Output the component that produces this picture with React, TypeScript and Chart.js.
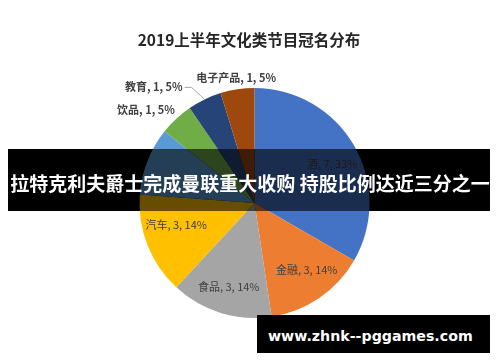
import React, { useEffect, useRef } from "react";
import { Chart, registerables } from "chart.js";

Chart.register(...registerables);

const TITLE = "2019上半年文化类节目冠名分布";
const categories = ["酒", "金融", "食品", "汽车", "日化", "饮品", "教育", "电子产品"];
const values = [7, 3, 3, 3, 2, 1, 1, 1];
const colors = ["#4472C4", "#ED7D31", "#A5A5A5", "#FFC000", "#5B9BD5", "#70AD47", "#264478", "#9E480E"];
const BANNER_TEXT = "拉特克利夫爵士完成曼联重大收购 持股比例达近三分之一";
const URL_TEXT = "www.zhnk--pggames.com";

const CJK = '"Noto Sans CJK SC", "Noto Sans", sans-serif';

const labelPlugin = {
  id: "sliceLabels",
  afterDraw(chart: any) {
    const ctx = chart.ctx;
    const opts = chart.options.plugins.sliceLabels || {};
    // title
    ctx.save();
    ctx.font = `bold 15.5px ${CJK}`;
    ctx.fillStyle = "#262626";
    ctx.textAlign = "center";
    ctx.textBaseline = "middle";
    ctx.fillText(TITLE, chart.width / 2 - 1, 40);
    ctx.restore();

    const meta = chart.getDatasetMeta(0);
    const total = values.reduce((a, b) => a + b, 0);
    meta.data.forEach((arc: any, i: number) => {
      if (opts.hidden && opts.hidden[i]) return;
      const { x, y, startAngle, endAngle, outerRadius } = arc.getProps(
        ["x", "y", "startAngle", "endAngle", "outerRadius"],
        true
      );
      const mid = (startAngle + endAngle) / 2;
      const c = Math.cos(mid);
      const s = Math.sin(mid);
      const text = `${categories[i]}, ${values[i]}, ${Math.round((values[i] / total) * 100)}%`;
      const span = endAngle - startAngle;
      const nudge = (opts.nudge && opts.nudge[i]) || [0, 0];
      ctx.save();
      ctx.fillStyle = "#404040";
      ctx.textBaseline = "middle";
      if (span > 0.7) {
        ctx.font = `11px ${CJK}`;
        ctx.textAlign = "center";
        const r = outerRadius * 0.76;
        ctx.fillText(text, x + c * r + nudge[0], y + s * r + nudge[1]);
      } else {
        ctx.font = `bold 11px ${CJK}`;
        const leader = opts.leader && opts.leader[i];
        if (leader) {
          const ex = x + c * outerRadius;
          const ey = y + s * outerRadius;
          const p1x = ex + leader[0];
          const p1y = ey + leader[1];
          const p2x = p1x - 7;
          ctx.strokeStyle = "#A6A6A6";
          ctx.lineWidth = 1;
          ctx.beginPath();
          ctx.moveTo(ex, ey);
          ctx.lineTo(p1x, p1y);
          ctx.lineTo(p2x, p1y);
          ctx.stroke();
          ctx.textAlign = "right";
          ctx.fillText(text, p2x - 2, p1y - 1);
        } else {
          const r = outerRadius + 8;
          const ax = x + c * r;
          const ay = y + s * r;
          if (c < -0.3) {
            ctx.textAlign = "right";
            ctx.fillText(text, ax + 4, ay - 3);
          } else if (c > 0.3) {
            ctx.textAlign = "left";
            ctx.fillText(text, ax - 4, ay - 3);
          } else {
            ctx.textAlign = "center";
            ctx.fillText(text, ax, ay - 4);
          }
        }
      }
      ctx.restore();
    });
  },
};

function PieChart() {
  const ref = useRef<HTMLCanvasElement | null>(null);
  useEffect(() => {
    if (!ref.current) return;
    const chart = new Chart(ref.current, {
      type: "pie",
      data: {
        labels: categories,
        datasets: [
          {
            data: values,
            backgroundColor: colors,
            borderWidth: 0,
          },
        ],
      },
      options: {
        responsive: false,
        animation: false,
        devicePixelRatio: 1,
        layout: { padding: { left: 139.5, right: 130.5, top: 88, bottom: 44 } },
        plugins: {
          legend: { display: false },
          tooltip: { enabled: false },
          title: { display: false },
          sliceLabels: {
            leader: { 6: [-13, -12] },
            hidden: { 4: true },
            nudge: { 0: [2, 5], 1: [3, -5], 3: [3, -10] },
          },
        } as any,
      },
      plugins: [labelPlugin as any],
    });
    return () => chart.destroy();
  }, []);
  return (
    <canvas
      ref={ref}
      width={500}
      height={362}
      style={{ position: "absolute", left: 0, top: 0, width: 500, height: 362, zIndex: 1 }}
    />
  );
}

export default function App() {
  return (
    <div
      style={{
        position: "fixed",
        left: 0,
        top: 0,
        width: 500,
        height: 362,
        background: "#ffffff",
        overflow: "hidden",
      }}
    >
      <div
        style={{
          position: "absolute",
          left: 8,
          top: 149,
          width: 482,
          height: 62,
          background: "#000000",
          zIndex: 0,
        }}
      />
      <PieChart />
      <div
        style={{
          position: "absolute",
          left: 8,
          top: 149,
          width: 482,
          height: 62,
          background: "rgba(0,0,0,0.6)",
          zIndex: 2,
        }}
      />
      <div
        style={{
          position: "absolute",
          left: 0,
          top: 149,
          width: 500,
          height: 62,
          zIndex: 3,
          display: "flex",
          alignItems: "center",
          justifyContent: "center",
          paddingTop: 4,
          boxSizing: "border-box",
          color: "#ffffff",
          fontFamily: CJK,
          fontWeight: "bold",
          fontSize: 19,
          whiteSpace: "nowrap",
        }}
      >
        {BANNER_TEXT}
      </div>
      <div
        style={{
          position: "absolute",
          left: 257,
          top: 315,
          width: 233,
          height: 38,
          zIndex: 3,
          background: "#000000",
          color: "#ffffff",
          display: "flex",
          alignItems: "center",
          paddingLeft: 11,
          paddingTop: 3,
          boxSizing: "border-box",
          fontFamily: '"DejaVu Sans", sans-serif',
          fontWeight: "bold",
          fontSize: 14.2,
          whiteSpace: "nowrap",
        }}
      >
        {URL_TEXT}
      </div>
    </div>
  );
}
